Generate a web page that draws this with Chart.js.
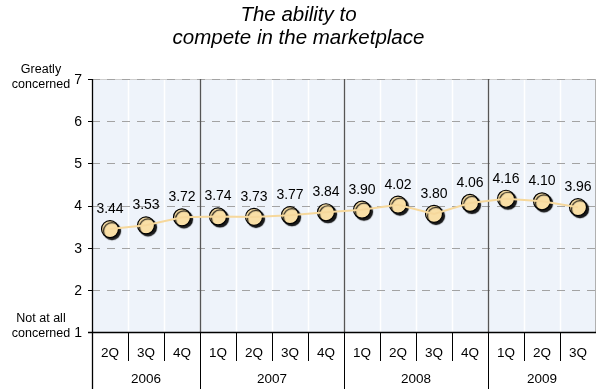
<!DOCTYPE html>
<html>
<head>
<meta charset="utf-8">
<script src="https://cdn.jsdelivr.net/npm/chart.js@4.4.1/dist/chart.umd.min.js"></script>
<style>
  html, body { margin: 0; padding: 0; background: #ffffff; }
  #wrap { width: 597px; height: 389px; position: relative; }
</style>
</head>
<body>
<div id="wrap"><canvas id="c" width="597" height="389"></canvas></div>
<script>
// Quarterly survey scores, grouped by year
const quarters = ['2Q','3Q','4Q','1Q','2Q','3Q','4Q','1Q','2Q','3Q','4Q','1Q','2Q','3Q'];
const years = ['2006', '2007', '2008', '2009'];
const quartersPerYear = [3, 4, 4, 3];
const scores = [3.44, 3.53, 3.72, 3.74, 3.73, 3.77, 3.84, 3.90, 4.02, 3.80, 4.06, 4.16, 4.10, 3.96];
const yTicks = [1, 2, 3, 4, 5, 6, 7];
const titleLines = ['The ability to', 'compete in the marketplace'];
const topAxisLabel = ['Greatly', 'concerned'];
const bottomAxisLabel = ['Not at all', 'concerned'];

const FONT = '"Liberation Sans", Arial, sans-serif';

// Background panel, grid, two-level category axis and annotations
const decor = {
  id: 'decor',
  beforeDatasetsDraw(chart) {
    const { ctx, chartArea: a, scales: { x, y } } = chart;
    const n = quarters.length;
    const step = a.width / n;
    ctx.save();
    ctx.fillStyle = '#eef3fa';
    ctx.fillRect(a.left, a.top, a.width, a.height);

    // white separators between quarters
    ctx.strokeStyle = '#ffffff';
    ctx.lineWidth = 1.5;
    for (let i = 1; i < n; i++) {
      const px = Math.round(a.left + i * step) + 0.5;
      ctx.beginPath(); ctx.moveTo(px, a.top); ctx.lineTo(px, a.bottom); ctx.stroke();
    }

    // horizontal dashed grid
    ctx.lineWidth = 1;
    yTicks.forEach(v => {
      if (v === yTicks[0]) return;
      const py = Math.round(y.getPixelForValue(v)) + 0.5;
      if (v === yTicks[yTicks.length - 1]) {
        ctx.setLineDash([]);
        ctx.strokeStyle = '#cfcfcf';
        ctx.beginPath(); ctx.moveTo(a.left, py); ctx.lineTo(a.right, py); ctx.stroke();
      }
      ctx.setLineDash([8, 7]);
      ctx.strokeStyle = '#a3a3a3';
      ctx.beginPath(); ctx.moveTo(a.left, py); ctx.lineTo(a.right, py); ctx.stroke();
    });
    ctx.setLineDash([]);

    // right edge
    ctx.strokeStyle = '#b0b0b0';
    ctx.beginPath(); ctx.moveTo(a.right - 0.5, a.top); ctx.lineTo(a.right - 0.5, a.bottom); ctx.stroke();

    const H = chart.height;
    const rowSplit = a.bottom + 29;

    // quarter tick separators below the axis
    ctx.strokeStyle = '#000000';
    let idx = 0;
    const yearBounds = [0];
    quartersPerYear.forEach(c => { idx += c; yearBounds.push(idx); });
    for (let i = 1; i < n; i++) {
      if (yearBounds.includes(i)) continue;
      const px = Math.round(a.left + i * step) + 0.5;
      ctx.beginPath(); ctx.moveTo(px, a.bottom); ctx.lineTo(px, rowSplit); ctx.stroke();
    }

    // year separators through plot and label rows
    for (let k = 1; k < yearBounds.length - 1; k++) {
      const px = Math.round(a.left + yearBounds[k] * step) + 0.5;
      ctx.strokeStyle = '#555555';
      ctx.lineWidth = 1.3;
      ctx.beginPath(); ctx.moveTo(px, a.top); ctx.lineTo(px, a.bottom); ctx.stroke();
      ctx.strokeStyle = '#000000';
      ctx.lineWidth = 1;
      ctx.beginPath(); ctx.moveTo(px, a.bottom); ctx.lineTo(px, H); ctx.stroke();
    }

    // axes
    ctx.strokeStyle = '#000000';
    ctx.lineWidth = 1.3;
    ctx.beginPath(); ctx.moveTo(a.left + 0.5, a.top); ctx.lineTo(a.left + 0.5, H); ctx.stroke();
    ctx.beginPath(); ctx.moveTo(a.left - 4, a.bottom + 0.5); ctx.lineTo(a.right, a.bottom + 0.5); ctx.stroke();
    ctx.lineWidth = 1;
    yTicks.forEach(v => {
      const py = Math.round(y.getPixelForValue(v)) + 0.5;
      ctx.beginPath(); ctx.moveTo(a.left - 4, py); ctx.lineTo(a.left, py); ctx.stroke();
    });

    // quarter and year labels
    ctx.fillStyle = '#000000';
    ctx.textAlign = 'center';
    ctx.textBaseline = 'middle';
    ctx.font = '13.5px ' + FONT;
    quarters.forEach((q, i) => ctx.fillText(q, x.getPixelForValue(i), a.bottom + 21));
    years.forEach((yr, k) => {
      const cx = a.left + (yearBounds[k] + yearBounds[k + 1]) / 2 * step;
      ctx.fillText(yr, cx, a.bottom + 47);
    });

    // y tick labels
    ctx.textAlign = 'right';
    ctx.font = '14px ' + FONT;
    yTicks.forEach(v => ctx.fillText(String(v), a.left - 10, y.getPixelForValue(v) + 1));

    // scale end descriptions
    ctx.textAlign = 'center';
    ctx.font = '12.5px ' + FONT;
    const yTop = y.getPixelForValue(yTicks[yTicks.length - 1]);
    const yBot = y.getPixelForValue(yTicks[0]);
    ctx.fillText(topAxisLabel[0], 41, yTop - 9);
    ctx.fillText(topAxisLabel[1], 41, yTop + 6);
    ctx.fillText(bottomAxisLabel[0], 41, yBot - 13);
    ctx.fillText(bottomAxisLabel[1], 41, yBot + 2);

    // title
    ctx.font = 'italic 20.5px ' + FONT;
    ctx.fillText(titleLines[0], chart.width / 2, 15);
    ctx.fillText(titleLines[1], chart.width / 2, 38);
    ctx.restore();
  },
  beforeDatasetDraw(chart, args) {
    if (args.index === 1) {
      const ctx = chart.ctx;
      ctx.save();
      ctx.shadowColor = 'rgba(0,0,0,0.9)';
      ctx.shadowOffsetX = 2;
      ctx.shadowOffsetY = 2;
      ctx.shadowBlur = 1;
    }
  },
  afterDatasetDraw(chart, args) {
    if (args.index === 1) chart.ctx.restore();
  },
  afterDatasetsDraw(chart) {
    const { ctx } = chart;
    const meta = chart.getDatasetMeta(1);
    ctx.save();
    ctx.fillStyle = '#000000';
    ctx.font = '14px ' + FONT;
    ctx.textAlign = 'center';
    ctx.textBaseline = 'alphabetic';
    meta.data.forEach((pt, i) => {
      ctx.fillText(scores[i].toFixed(2), pt.x, pt.y - 16);
    });
    ctx.restore();
  }
};

new Chart(document.getElementById('c'), {
  type: 'line',
  data: {
    labels: quarters,
    datasets: [
      {
        data: scores,
        borderColor: '#f6d89c',
        borderWidth: 2,
        pointRadius: 0,
        fill: false,
        tension: 0
      },
      {
        data: scores,
        showLine: false,
        pointRadius: 8.5,
        pointBackgroundColor: '#f9dfa6',
        pointBorderColor: '#000000',
        pointBorderWidth: 1.2
      }
    ]
  },
  options: {
    responsive: false,
    animation: false,
    events: [],
    layout: { autoPadding: false, padding: { left: 0, right: 1, top: 79, bottom: 0 } },
    plugins: { legend: { display: false }, tooltip: { enabled: false }, title: { display: false } },
    scales: {
      x: {
        type: 'category',
        offset: true,
        grid: { display: false },
        border: { display: false },
        ticks: { display: false },
        afterFit(s) { s.height = 57; }
      },
      y: {
        min: 1,
        max: 7,
        grid: { display: false },
        border: { display: false },
        ticks: { display: false, stepSize: 1 },
        afterFit(s) { s.width = 92; }
      }
    }
  },
  plugins: [decor]
});
</script>
</body>
</html>
